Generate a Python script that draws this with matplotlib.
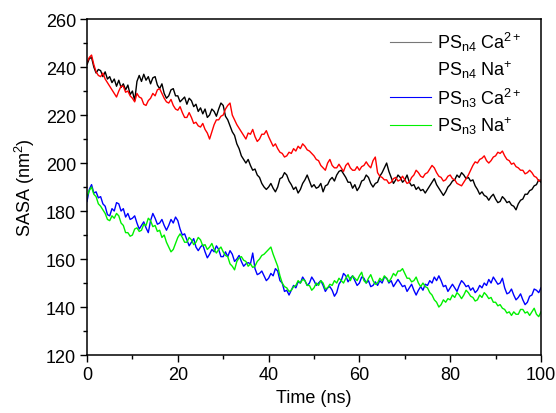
import numpy as np
import matplotlib
matplotlib.use("Agg")
import matplotlib.pyplot as plt
from matplotlib.lines import Line2D
from matplotlib.ticker import MultipleLocator

plt.rcParams['font.family'] = ['Liberation Sans', 'DejaVu Sans']
plt.rcParams['mathtext.fontset'] = 'custom'
plt.rcParams['mathtext.rm'] = 'Liberation Sans'
plt.rcParams['mathtext.it'] = 'Liberation Sans:italic'

# SASA sampled every 0.5 ns, 0..100 ns
time_ns = np.arange(201) * 0.5

sasa_n4_ca = [
    241, 243.5, 244, 240, 237.5, 239, 238.5, 236, 238, 235,
    236, 233.5, 235, 232, 234.5, 231.5, 233, 230.5, 232.5, 228.5,
    230, 226, 234, 236.5, 234, 237, 234.5, 236, 233, 235.5,
    236, 232.5, 231, 233, 229, 227, 228, 230.5, 231, 228,
    228, 225.5, 226.5, 227.5, 224.5, 227, 226, 223.5, 224.5, 221.5,
    223, 220.5, 222.5, 219, 220, 222.5, 221.5, 219.5, 222.5, 225,
    224, 219.5, 218, 215.5, 213, 211.5, 208, 206, 203, 201.5,
    200, 201.5, 199, 197, 197.5, 195, 194, 191.5, 190, 189,
    190, 191.5, 189.5, 188, 190, 193.5, 194, 196, 195, 192.5,
    191, 189, 190, 187.5, 189, 191.5, 193, 195, 192.5, 190,
    191, 189.5, 190, 191.5, 188, 190.5, 191, 193, 194, 192.5,
    195, 196.5, 197, 195.5, 194, 192, 192, 189.5, 191, 188.5,
    190, 192.5, 193, 195, 194, 191.5, 190, 191.5, 192, 194.5,
    196, 198, 200, 196.5, 194, 191.5, 193, 195, 194, 192,
    193, 195, 192, 190.5, 191, 189, 190, 188.5, 189, 187.5,
    189, 190.5, 192, 193.5, 191, 189.5, 188, 186.5, 188, 190,
    191, 192.5, 193, 195, 194, 196, 195, 193.5, 194, 192.5,
    193, 190.5, 189, 187, 188, 186.5, 186, 184.5, 186, 187,
    185, 183.5, 184, 186, 185, 183.5, 184, 182.5, 182, 180.5,
    183, 184.5, 185, 187, 187, 188.5, 189, 190.5, 191, 193,
    192,
]

sasa_n4_na = [
    242, 244, 245, 241, 238, 236.5, 236, 237.5, 235, 233.5,
    232, 230.5, 229, 227.5, 230, 232, 232, 229.5, 230, 228,
    227, 225.5, 229, 227.5, 227, 224.5, 224, 226, 227, 229,
    228, 230.5, 231, 229, 227, 225.5, 225, 226.5, 224, 222.5,
    222, 223.5, 221, 219, 219, 221, 219, 216.5, 217, 215.5,
    215, 216.5, 214, 212.5, 210, 213, 216, 218, 218, 219.5,
    220, 222.5, 224, 225, 220, 218, 216, 214.5, 213, 211.5,
    210, 212.5, 212, 214, 211, 209, 210, 212, 212, 213.5,
    211, 209, 207, 208, 206, 204.5, 204, 202.5, 203, 204.5,
    204, 206, 205, 207, 206, 208, 207, 205.5, 205, 204,
    203, 201.5, 201, 199, 198, 197, 200, 201.5, 199, 198,
    198, 199.5, 198, 196.5, 199, 200, 198, 197, 197, 198.5,
    197, 198.5, 199, 200.5, 199, 198, 201, 202.5, 196, 194.5,
    194, 193, 193, 191.5, 192, 193.5, 194, 192.5, 193, 194.5,
    193, 191.5, 192, 194, 195, 197, 196, 194.5, 194, 195.5,
    196, 197.5, 199, 198, 196, 194.5, 194, 192.5, 193, 194.5,
    195, 193.5, 193, 191.5, 191, 190.5, 192, 193.5, 195, 197,
    199, 200.5, 200, 201.5, 202, 203, 201, 200, 201, 202.5,
    203, 204.5, 204, 205, 203, 201.5, 201, 199.5, 200, 198.5,
    198, 197, 197, 195.5, 196, 197, 196, 194.5, 194, 192.5,
    193,
]

sasa_n3_ca = [
    184, 189, 191, 187.5, 188, 185.5, 186, 183, 182, 178.5,
    178, 181, 180, 183.5, 183, 180, 181, 177.5, 179, 176.5,
    177, 178, 175, 172.5, 174, 175.5, 173, 171, 176, 179,
    177, 174.5, 175, 176.5, 174, 172, 174, 176.5, 175, 177.5,
    176, 172.5, 170, 170.5, 168, 165.5, 167, 168.5, 165, 163.5,
    165, 166, 163, 160.5, 162, 164, 163, 165.5, 164, 161,
    161, 163, 161, 163.5, 162, 159, 160, 161.5, 159, 157,
    158, 158.5, 158, 162.5, 156, 153.5, 154, 155, 153, 151,
    152, 154, 153, 156, 155, 151, 150, 146.5, 147, 145,
    147, 149, 148, 150.5, 150, 152.5, 151, 149, 150, 152.5,
    151, 149, 150, 151, 149, 146.5, 148, 148.5, 147, 144.5,
    146, 149.5, 151, 154, 153, 150.5, 152, 153, 151, 149,
    150, 152.5, 152, 150, 151, 148.5, 149, 150.5, 149, 151,
    150, 152.5, 152, 150, 151, 148.5, 150, 151.5, 150, 148.5,
    149, 146.5, 148, 149.5, 147, 145, 147, 148.5, 147, 149.5,
    149, 151, 150, 152.5, 151, 153, 151, 148.5, 149, 146.5,
    148, 149.5, 148, 146.5, 149, 151, 150, 148.5, 149, 147,
    148, 146, 147, 149, 148, 150, 149, 151.5, 150, 152.5,
    151, 149.5, 150, 152, 148, 145.5, 146, 147.5, 145, 143,
    144, 145.5, 143, 141, 142, 144.5, 145, 147.5, 147, 146,
    148,
]

sasa_n3_na = [
    186, 188.5, 190, 187, 186, 183, 182, 180.5, 179, 176.5,
    176, 178, 177, 179, 178, 175, 174, 171, 171, 169.5,
    170, 172.5, 173, 171.5, 172, 174.5, 174, 177, 176, 173.5,
    174, 171.5, 172, 169, 170, 167, 165, 163, 164, 166.5,
    169, 170.5, 169, 167, 167, 169, 168, 166, 167, 169,
    168, 165.5, 166, 164, 165, 166.5, 164, 162.5, 164, 165,
    163, 161.5, 161, 158, 157, 155.5, 159, 160.5, 161, 159.5,
    159, 157, 158, 156.5, 157, 159, 160, 161.5, 162, 163,
    164, 165, 162, 159.5, 157, 153, 150, 148.5, 148, 146.5,
    147, 148.5, 149, 151, 150, 151.5, 151, 149, 149, 147,
    148, 150, 149, 151, 150, 147.5, 148, 149.5, 149, 151,
    150, 152, 151, 150, 152, 153.5, 151, 153, 152, 151,
    153, 154.5, 151, 150, 152, 153.5, 151, 149.5, 150, 152,
    151, 153, 152, 150.5, 152, 154, 153, 155, 155, 156,
    154, 152, 152, 150.5, 151, 152.5, 150, 148.5, 150, 148.5,
    148, 146, 145, 143, 142, 140, 141, 143, 142, 143.5,
    143, 145, 144, 146, 145, 143.5, 145, 147, 146, 144.5,
    144, 142.5, 143, 145, 144, 146, 145, 143.5, 144, 142,
    142, 140.5, 141, 139.5, 139, 137.5, 138, 136.5, 138, 137,
    137, 139, 139, 137.5, 138, 136.5, 138, 139.5, 137, 136,
    138,
]

fig = plt.figure(figsize=(5.56, 4.14), dpi=100)
ax = fig.add_axes([0.1565, 0.140, 0.8165, 0.8116])

ax.plot(time_ns, sasa_n4_ca, color='black', linewidth=1.0)
ax.plot(time_ns, sasa_n4_na, color='red', linewidth=1.0)
ax.plot(time_ns, sasa_n3_ca, color='blue', linewidth=1.0)
ax.plot(time_ns, sasa_n3_na, color='#00f000', linewidth=1.0)

ax.set_xlim(0, 100)
ax.set_ylim(120, 260)
ax.xaxis.set_major_locator(MultipleLocator(20))
ax.xaxis.set_minor_locator(MultipleLocator(10))
ax.yaxis.set_major_locator(MultipleLocator(20))
ax.yaxis.set_minor_locator(MultipleLocator(10))
ax.tick_params(which='major', direction='out', length=5, width=1, labelsize=13, pad=3)
ax.tick_params(which='minor', direction='out', length=3, width=1)
for s in ax.spines.values():
    s.set_linewidth(1.1)

ax.set_xlabel('Time (ns)', fontsize=13, labelpad=4)
ax.set_ylabel('SASA (nm$^2$)', fontsize=13, labelpad=6)

# legend: the PSn4 Na+ entry carries no visible line
handles = [
    Line2D([], [], color='#777777', linewidth=0.8),
    Line2D([], [], color='none'),
    Line2D([], [], color='blue', linewidth=0.8),
    Line2D([], [], color='#00f000', linewidth=0.8),
]
labels = [
    r'PS$_{\mathrm{n4}}$ Ca$^{2+}$',
    r'PS$_{\mathrm{n4}}$ Na$^{+}$',
    r'PS$_{\mathrm{n3}}$ Ca$^{2+}$',
    r'PS$_{\mathrm{n3}}$ Na$^{+}$',
]
ax.legend(handles, labels, loc='upper right', bbox_to_anchor=(0.985, 1.005),
          frameon=False, fontsize=13, handlelength=2.3, handletextpad=0.3,
          labelspacing=0.3, borderaxespad=0.3)

fig.savefig('out.png', dpi=100)
